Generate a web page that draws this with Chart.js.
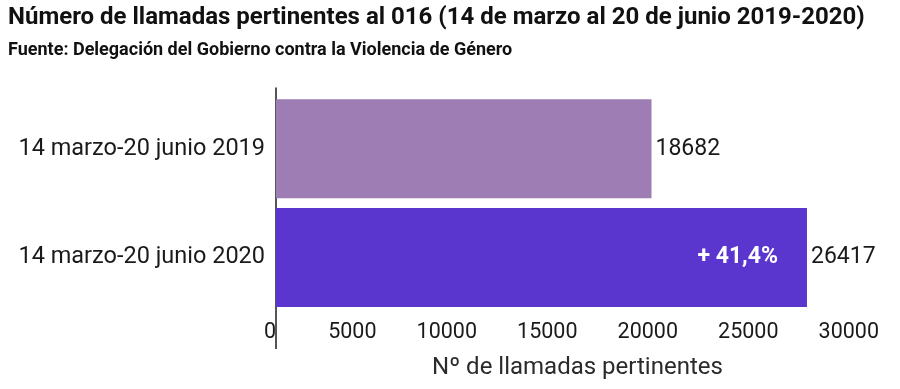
<!DOCTYPE html>
<html>
<head>
<meta charset="utf-8">
<script src="https://cdn.jsdelivr.net/npm/chart.js@4/dist/chart.umd.min.js"></script>
<style>
  html, body { margin: 0; background: #fff; }
  #wrap { width: 900px; height: 389px; }
</style>
</head>
<body>
<div id="wrap"><canvas id="chart"></canvas></div>
<script>
// data
const periods = ['14 marzo-20 junio 2019', '14 marzo-20 junio 2020'];
const calls = [18682, 26417];
const barColors = ['#9e7cb4', '#5a36cf'];
const xTicks = [0, 5000, 10000, 15000, 20000, 25000, 30000];

const FONT = 'Roboto, "Noto Sans", sans-serif';

// % change between the two periods, written the Spanish way
const change = (calls[1] - calls[0]) / calls[0] * 100;
const changeLabel = '+ ' + change.toFixed(1).replace('.', ',') + '%';

// value labels + the white % note in the 2020 bar
const barLabels = {
  id: 'barLabels',
  afterDatasetsDraw(chart) {
    const ctx = chart.ctx;
    const meta = chart.getDatasetMeta(0);
    ctx.save();
    ctx.textBaseline = 'middle';
    meta.data.forEach((bar, i) => {
      ctx.font = '23px ' + FONT;
      ctx.fillStyle = '#1a1a1a';
      ctx.textAlign = 'left';
      ctx.fillText(String(calls[i]), bar.x + 4, bar.y);
    });
    const last = meta.data[meta.data.length - 1];
    ctx.font = 'bold 23px ' + FONT;
    ctx.fillStyle = '#ffffff';
    ctx.textAlign = 'right';
    ctx.fillText(changeLabel, last.x - 29, last.y);
    ctx.restore();
  }
};

// the left axis line runs a bit above the bars and down past the tick labels
const axisLine = {
  id: 'axisLine',
  beforeDatasetsDraw(chart) {
    const { ctx, chartArea } = chart;
    const x = chart.scales.x.getPixelForValue(0);
    ctx.save();
    ctx.strokeStyle = '#555';
    ctx.lineWidth = 2;
    ctx.beginPath();
    ctx.moveTo(x, chartArea.top - 7);
    ctx.lineTo(x, chartArea.bottom + 37);
    ctx.stroke();
    ctx.restore();
  }
};

new Chart(document.getElementById('chart'), {
  type: 'bar',
  data: {
    labels: periods,
    datasets: [{
      data: calls,
      backgroundColor: barColors,
      barPercentage: 0.91,
      categoryPercentage: 1
    }]
  },
  options: {
    indexAxis: 'y',
    responsive: true,
    maintainAspectRatio: false,
    animation: false,
    layout: { padding: { left: 8, right: 21, top: 0, bottom: 0 } },
    plugins: {
      legend: { display: false },
      tooltip: { enabled: false },
      title: {
        display: true,
        text: 'Número de llamadas pertinentes al 016 (14 de marzo al 20 de junio 2019-2020)',
        align: 'start',
        color: '#111',
        font: { family: FONT, size: 24, weight: 'bold' },
        padding: { top: 4, bottom: 4 }
      },
      subtitle: {
        display: true,
        text: 'Fuente: Delegación del Gobierno contra la Violencia de Género',
        align: 'start',
        color: '#111',
        font: { family: FONT, size: 18, weight: 'bold' },
        padding: { top: 3, bottom: 33 }
      }
    },
    scales: {
      x: {
        min: 0,
        max: 30000,
        afterBuildTicks: (scale) => { scale.ticks = xTicks.map(v => ({ value: v })); },
        afterFit: (scale) => { scale.height = 77; },
        grid: { display: false, drawTicks: false },
        border: { display: false },
        ticks: {
          align: 'end',
          padding: 8,
          color: '#1a1a1a',
          font: { family: FONT, size: 21.5 },
          callback: (v) => String(v)
        },
        title: {
          display: true,
          text: 'Nº de llamadas pertinentes',
          color: '#2a2a2a',
          font: { family: FONT, size: 24 },
          padding: { top: 4, bottom: 7 }
        }
      },
      y: {
        afterFit: (scale) => { scale.width = 268; },
        grid: { display: false, drawTicks: false },
        border: { display: false },
        ticks: {
          padding: 11,
          color: '#1a1a1a',
          font: { family: FONT, size: 23.5 }
        }
      }
    }
  },
  plugins: [barLabels, axisLine]
});
</script>
</body>
</html>
